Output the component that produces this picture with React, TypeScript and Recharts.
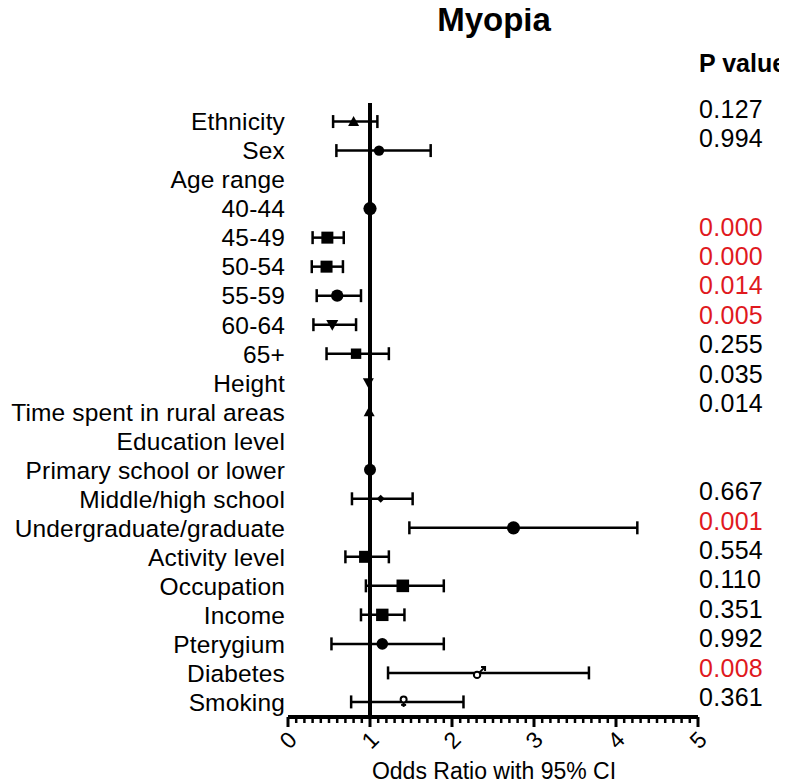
import React from 'react';
import { ComposedChart, Scatter, XAxis, YAxis, ErrorBar, ReferenceLine } from 'recharts';

const rowLabels = [
  'Ethnicity', 'Sex', 'Age range', '40-44', '45-49', '50-54', '55-59', '60-64', '65+',
  'Height', 'Time spent in rural areas', 'Education level', 'Primary school or lower',
  'Middle/high school', 'Undergraduate/graduate', 'Activity level', 'Occupation',
  'Income', 'Pterygium', 'Diabetes', 'Smoking',
];
const oddsRatio = [0.8, 1.11, null, 1.0, 0.48, 0.47, 0.6, 0.54, 0.83, 0.98, 0.99, null, 1.0, 1.13, 2.75, 0.94, 1.4, 1.15, 1.15, 2.33, 1.41];
const ciLow = [0.55, 0.59, null, null, 0.3, 0.29, 0.35, 0.31, 0.47, null, null, null, null, 0.78, 1.48, 0.7, 0.95, 0.89, 0.53, 1.22, 0.77];
const ciHigh = [1.09, 1.74, null, null, 0.68, 0.67, 0.89, 0.83, 1.23, null, null, null, null, 1.52, 4.26, 1.23, 1.9, 1.42, 1.9, 3.67, 2.14];
const pValues = ['0.127', '0.994', '', '', '0.000', '0.000', '0.014', '0.005', '0.255', '0.035', '0.014', '', '', '0.667', '0.001', '0.554', '0.110', '0.351', '0.992', '0.008', '0.361'];
const majorTicks = [0, 1, 2, 3, 4, 5];
const minorTicks = Array.from({ length: 51 }, (_, i) => Number((i * 0.1).toFixed(1)));

// styling (not data)
const pRed = [false, false, false, false, true, true, true, true, false, false, false, false, false, false, true, false, false, false, false, true, false];
const markerStyles: { shape: string; size: number }[] = [
  { shape: 'tri', size: 5.5 },
  { shape: 'circle', size: 5.2 },
  { shape: 'none', size: 0 },
  { shape: 'circle', size: 6.6 },
  { shape: 'square', size: 6 },
  { shape: 'square', size: 6 },
  { shape: 'circle', size: 6.2 },
  { shape: 'triDown', size: 6 },
  { shape: 'square', size: 5.2 },
  { shape: 'triDown', size: 5.5 },
  { shape: 'tri', size: 5.5 },
  { shape: 'none', size: 0 },
  { shape: 'circle', size: 6 },
  { shape: 'diamond', size: 4 },
  { shape: 'circle', size: 6.6 },
  { shape: 'square', size: 6 },
  { shape: 'square', size: 6.3 },
  { shape: 'square', size: 6.2 },
  { shape: 'circle', size: 5.8 },
  { shape: 'male', size: 4 },
  { shape: 'female', size: 3 },
];

const FONT = '"Liberation Sans", Arial, Helvetica, sans-serif';

const rowIdx = rowLabels.map((_, i) => i);
const pRows = rowIdx.filter((i) => pValues[i] !== '');

const withCI = rowIdx
  .filter((i) => oddsRatio[i] != null && ciLow[i] != null)
  .map((i) => ({
    row: i,
    or: oddsRatio[i] as number,
    err: [(oddsRatio[i] as number) - (ciLow[i] as number), (ciHigh[i] as number) - (oddsRatio[i] as number)],
  }));
const noCI = rowIdx
  .filter((i) => oddsRatio[i] != null && ciLow[i] == null)
  .map((i) => ({ row: i, or: oddsRatio[i] as number }));

function Marker(props: any) {
  const { cx, cy, payload } = props;
  if (cx == null || cy == null || !payload) return <g />;
  const m = markerStyles[payload.row];
  const s = m.size;
  switch (m.shape) {
    case 'circle':
      return <circle cx={cx} cy={cy} r={s} fill="#000" />;
    case 'square':
      return <rect x={cx - s} y={cy - s} width={2 * s} height={2 * s} fill="#000" />;
    case 'tri':
      return <polygon points={`${cx},${cy - s} ${cx + s},${cy + s * 0.8} ${cx - s},${cy + s * 0.8}`} fill="#000" />;
    case 'triDown':
      return <polygon points={`${cx},${cy + s} ${cx + s},${cy - s * 0.8} ${cx - s},${cy - s * 0.8}`} fill="#000" />;
    case 'diamond':
      return <polygon points={`${cx},${cy - s} ${cx + s},${cy} ${cx},${cy + s} ${cx - s},${cy}`} fill="#000" />;
    case 'male':
      return (
        <g stroke="#000" strokeWidth={2} fill="none">
          <circle cx={cx - 2} cy={cy + 2} r={3.2} fill="#fff" />
          <line x1={cx + 0.3} y1={cy - 0.3} x2={cx + 6} y2={cy - 6} />
          <polyline points={`${cx + 2},${cy - 6} ${cx + 6},${cy - 6} ${cx + 6},${cy - 2}`} />
        </g>
      );
    case 'female':
      return (
        <g stroke="#000" strokeWidth={2} fill="none">
          <circle cx={cx} cy={cy - 2.5} r={s} fill="#fff" />
          <line x1={cx} y1={cy + 0.5} x2={cx} y2={cy + 5} />
          <line x1={cx - 2.5} y1={cy + 3} x2={cx + 2.5} y2={cy + 3} />
        </g>
      );
    default:
      return <g />;
  }
}

function XTick(props: any) {
  const { x, y, payload } = props;
  const v = Number(payload.value);
  const isMajor = majorTicks.some((t) => Math.abs(t - v) < 1e-6);
  const len = isMajor ? 10 : 6;
  const ly = y + 23;
  return (
    <g>
      <line x1={x} y1={y} x2={x} y2={y + len} stroke="#000" strokeWidth={isMajor ? 3 : 2.5} />
      {isMajor && (
        <text
          x={x}
          y={ly}
          textAnchor="middle"
          dominantBaseline="central"
          transform={`rotate(-45, ${x}, ${ly})`}
          fontFamily={FONT}
          fontSize={23}
          fill="#000"
        >
          {String(v)}
        </text>
      )}
    </g>
  );
}

function LeftTick(props: any) {
  const { x, y, payload } = props;
  const label = rowLabels[Math.round(Number(payload.value))];
  return (
    <text x={x - 3} y={y} dy="0.36em" textAnchor="end" fontFamily={FONT} fontSize={24.5} letterSpacing={0.15} fill="#000">
      {label}
    </text>
  );
}

function RightTick(props: any) {
  const { x, y, payload } = props;
  const i = Math.round(Number(payload.value));
  return (
    <text x={x + 1} y={y} dy="0.36em" textAnchor="start" fontFamily={FONT} fontSize={25} letterSpacing={0.3} fill={pRed[i] ? '#e0191e' : '#000'}>
      {pValues[i]}
    </text>
  );
}

export default function App() {
  const W = 779;
  const H = 776;
  return (
    <div style={{ position: 'relative', width: W, height: H, background: '#fff' }}>
      <ComposedChart width={W} height={H} margin={{ top: 95, right: 0, bottom: 7, left: 0 }}>
        <XAxis
          type="number"
          dataKey="or"
          domain={[0, 5]}
          ticks={minorTicks}
          interval={0}
          allowDataOverflow
          tickLine={false}
          tickSize={0}
          tickMargin={0}
          height={60}
          axisLine={{ stroke: '#000', strokeWidth: 4 }}
          tick={(p: any) => <XTick {...p} />}
        />
        <YAxis
          yAxisId="rows"
          type="number"
          dataKey="row"
          domain={[-0.64, 20.52]}
          reversed
          allowDataOverflow
          ticks={rowIdx}
          interval={0}
          width={280}
          axisLine={false}
          tickLine={false}
          tickSize={0}
          tickMargin={0}
          tick={(p: any) => <LeftTick {...p} />}
        />
        <YAxis
          yAxisId="p"
          orientation="right"
          type="number"
          domain={[-0.204, 20.68]}
          reversed
          allowDataOverflow
          ticks={pRows}
          interval={0}
          width={89}
          axisLine={false}
          tickLine={false}
          tickSize={0}
          tickMargin={0}
          tick={(p: any) => <RightTick {...p} />}
        />
        <ReferenceLine yAxisId="rows" x={1} stroke="#000" strokeWidth={4} />
        <Scatter yAxisId="rows" data={withCI} shape={(p: any) => <Marker {...p} />} isAnimationActive={false}>
          <ErrorBar dataKey="err" direction="x" width={6.5} strokeWidth={2.5} stroke="#000" />
        </Scatter>
        <Scatter yAxisId="rows" data={noCI} shape={(p: any) => <Marker {...p} />} isAnimationActive={false} />
      </ComposedChart>
      <svg width={787} height={784} style={{ position: 'absolute', left: -8, top: -8, pointerEvents: 'none' }}>
        <text x={494} y={31} textAnchor="middle" fontFamily={FONT} fontWeight="bold" fontSize={33} fill="#000">
          Myopia
        </text>
        <text x={699} y={72} textAnchor="start" fontFamily={FONT} fontWeight="bold" fontSize={25} fill="#000">
          P value
        </text>
        <text x={494} y={779} textAnchor="middle" fontFamily={FONT} fontSize={23} fill="#000">
          Odds Ratio with 95% CI
        </text>
      </svg>
    </div>
  );
}
